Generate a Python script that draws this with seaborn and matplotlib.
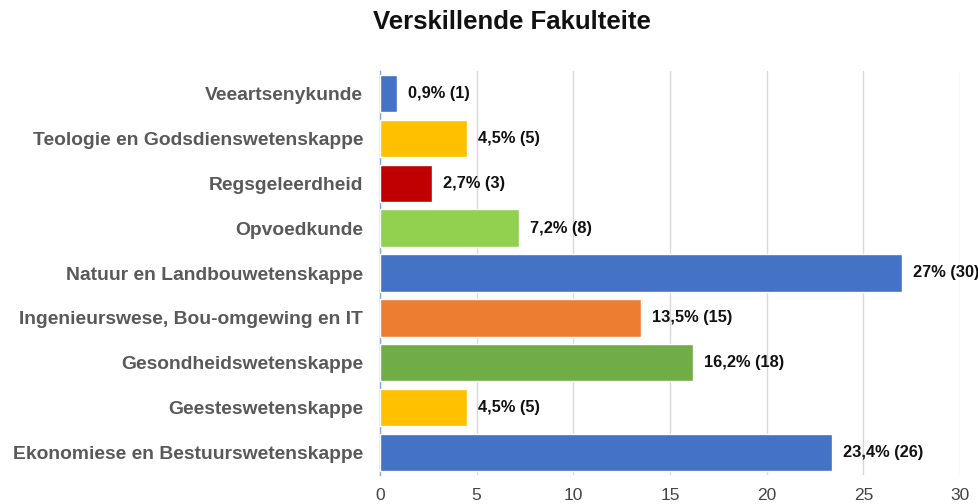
import matplotlib
matplotlib.use("Agg")
import matplotlib.pyplot as plt
import seaborn as sns
import pandas as pd
import numpy as np

categories = [
    "Veeartsenykunde",
    "Teologie en Godsdienswetenskappe",
    "Regsgeleerdheid",
    "Opvoedkunde",
    "Natuur en Landbouwetenskappe",
    "Ingenieurswese, Bou-omgewing en IT",
    "Gesondheidswetenskappe",
    "Geesteswetenskappe",
    "Ekonomiese en Bestuurswetenskappe",
]
percent = [0.9, 4.5, 2.7, 7.2, 27, 13.5, 16.2, 4.5, 23.4]
counts = [1, 5, 3, 8, 30, 15, 18, 5, 26]
bar_colors = ["#4472C4", "#FFC000", "#C00000", "#92D050", "#4472C4",
              "#ED7D31", "#70AD47", "#FFC000", "#4472C4"]
x_ticks = [0, 5, 10, 15, 20, 25, 30]

sns.set_theme(style="white")
plt.rcParams['font.family'] = ['Liberation Sans', 'DejaVu Sans']

df = pd.DataFrame({"Fakulteit": categories, "Persent": percent})

fig = plt.figure(figsize=(9.79, 5.04), dpi=100)
ax = fig.add_axes([380/979, 1 - 475/504, (960-380)/979, (475-71)/504])

sns.barplot(data=df, x="Persent", y="Fakulteit", hue="Fakulteit",
            palette=bar_colors, legend=False, orient="h", width=0.83,
            saturation=1, ax=ax, zorder=3)

for i, (p, c) in enumerate(zip(percent, counts)):
    ps = (f"{p:g}").replace(".", ",")
    ax.text(p + 0.55, i, f"{ps}% ({c})", va="center", ha="left",
            fontsize=11.8, fontweight="bold", color="#111111", zorder=4)

ax.set_xlim(0, 30)
ax.set_ylim(len(categories) - 0.5, -0.5)
ax.set_xticks(x_ticks)
ax.set_xticklabels([str(t) for t in x_ticks], fontsize=12.5, color="#444444")
ax.grid(axis="x", color="#d9d9d9", linewidth=1, zorder=0)
ax.grid(axis="y", visible=False)
ax.set_xlabel("")
ax.set_ylabel("")
ax.set_yticks(range(len(categories)))
ax.set_yticklabels(categories, fontsize=13.9, fontweight="bold", color="#595959")
ax.tick_params(axis="y", which="major", length=0, pad=12)
ax.set_yticks(np.arange(-0.5, len(categories), 1), minor=True)
ax.tick_params(axis="y", which="minor", length=5, color="#6a8fc7", width=1)
ax.tick_params(axis="x", length=0, pad=9)

for s in ["top", "right", "bottom"]:
    ax.spines[s].set_visible(False)
ax.spines["left"].set_color("#8aa5cf")
ax.spines["left"].set_linewidth(1)

fig.text(512/979, 1 - 22/504, "Verskillende Fakulteite", ha="center", va="center",
         fontsize=18.5, fontweight="bold", color="#111111")

fig.savefig("out.png", dpi=100)
